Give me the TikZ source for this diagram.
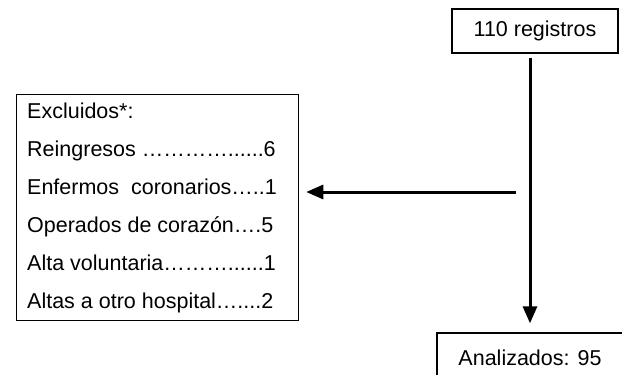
\documentclass[tikz,border=0pt]{standalone}
\usepackage{fontspec}
\setmainfont{Liberation Sans}
\usetikzlibrary{arrows.meta, positioning}
\tikzset{
	caja/.style={draw, line width=1.3pt, minimum height=44pt, inner sep=0pt},
	flecha/.style={line width=3pt, -{Triangle[length=17pt,width=14pt]}},
	linea/.style={anchor=base west, inner sep=0pt},
}

\begin{document}
\begin{tikzpicture}[x=1pt,y=-1pt,font=\fontsize{21.5}{26}\selectfont]
		\clip (0,0) rectangle (622,375);
		\node[caja, minimum width=166pt] (reg) at (535,31) {110 registros};
		\node[caja, minimum width=186pt, minimum height=50pt] (anal) at (530,358) {Analizados: 95};
		\node[caja, minimum width=282pt, minimum height=226pt, anchor=north west] (excl) at (16,94) {};
		% lista de excluidos
		\node[linea] (l0) at (27,118) {Excluidos*:};
		\node[linea] (l1) at (27,156) {Reingresos …………......6};
		\node[linea] (l2) at (27,194) {Enfermos\ \ coronarios…..1};
		\node[linea] (l3) at (27,232) {Operados de corazón….5};
		\node[linea] (l4) at (27,270) {Alta voluntaria………......1};
		\node[linea] (l5) at (27,308) {Altas a otro hospital…....2};
		\coordinate (brk) at (516,192);
		\draw[flecha, shorten <=4pt, shorten >=9pt] (reg.south -| anal.north) -- (anal.north);
		\draw[flecha, shorten >=7pt] (brk) -- (brk -| excl.east);
	\end{tikzpicture}
\end{document}
